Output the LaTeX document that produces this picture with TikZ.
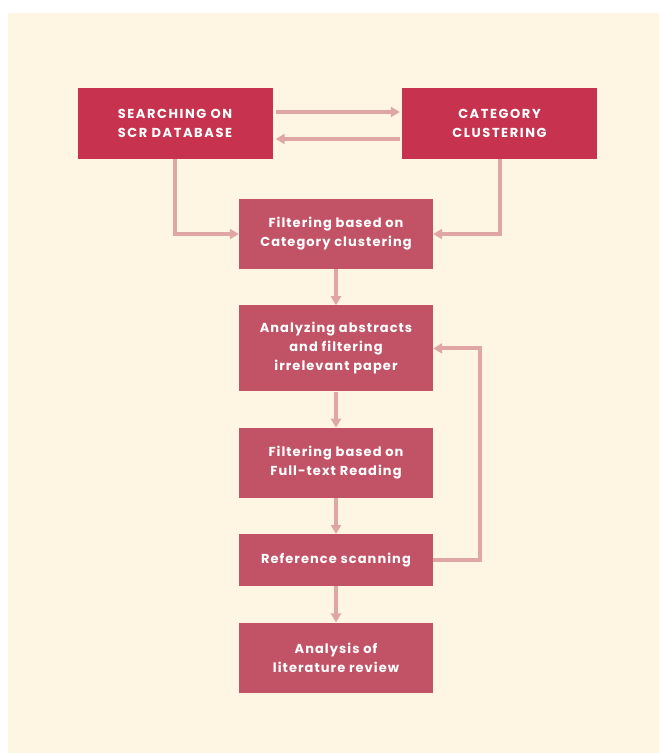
\documentclass[tikz,border=0pt]{standalone}
\usepackage{fontspec}
\newfontfamily\boxfont{Poppins}[LetterSpace=8]
\newfontfamily\capsfont{Poppins}[LetterSpace=12]
\usepackage{tikz}
\usetikzlibrary{positioning}
\usetikzlibrary{arrows.meta}

\definecolor{cream}{HTML}{FEF6E2}
\definecolor{crimson}{HTML}{C7334E}
\definecolor{rose}{HTML}{C25366}
\definecolor{pinkline}{HTML}{E0A6A3}

\begin{document}
\begin{tikzpicture}[x=1pt, y=1pt,
    box/.style={fill=rose, text=white, align=center, minimum width=194pt,
        font=\boxfont\bfseries\fontsize{13}{19}\selectfont},
    topbox/.style={box, fill=crimson, minimum width=195pt, minimum height=71pt,
        font=\capsfont\bfseries\fontsize{13}{19}\selectfont},
    arr/.style={-{Triangle[width=10pt, length=9pt]}, pinkline, line width=4pt},
    node distance=36pt]
    \fill[white] (0,0) rectangle (659,-753);
    \fill[cream] (8,-13) rectangle (659,-753);

    \node[topbox] (search) at (175,-123.5) {SEARCHING ON\\SCR DATABASE};
    \node[topbox] (cluster) at (499.5,-123.5) {CATEGORY\\CLUSTERING};
    \node[box, minimum height=70pt] (catfilter) at (336,-234)
        {Filtering based on\\Category clustering};
    \node[box, minimum height=86pt, below=of catfilter] (abstracts)
        {Analyzing abstracts\\and filtering\\irrelevant paper};
    \node[box, minimum height=70pt, below=of abstracts] (fulltext)
        {Filtering based on\\Full-text Reading};
    \node[box, minimum height=52pt, below=of fulltext] (refscan) {Reference scanning};
    \node[box, minimum height=70pt, below=of refscan] (review)
        {Analysis of\\literature review};

    \draw[arr, shorten <=3pt, shorten >=2pt]
        ([yshift=11.5pt]search.east) -- ([yshift=11.5pt]cluster.west);
    \draw[arr, shorten <=2pt, shorten >=3pt]
        ([yshift=-15.5pt]cluster.west) -- ([yshift=-15.5pt]search.east);
    \draw[arr] (search.south) |- (catfilter.west);
    \draw[arr] (cluster.south) |- (catfilter.east);
    \draw[arr] (catfilter) -- (abstracts);
    \draw[arr] (abstracts) -- (fulltext);
    \draw[arr] (fulltext) -- (refscan);
    \draw[arr] (refscan) -- (review);
    \draw[arr] (refscan.east) -- ++(47,0) |- (abstracts.east);
\end{tikzpicture}
\end{document}
